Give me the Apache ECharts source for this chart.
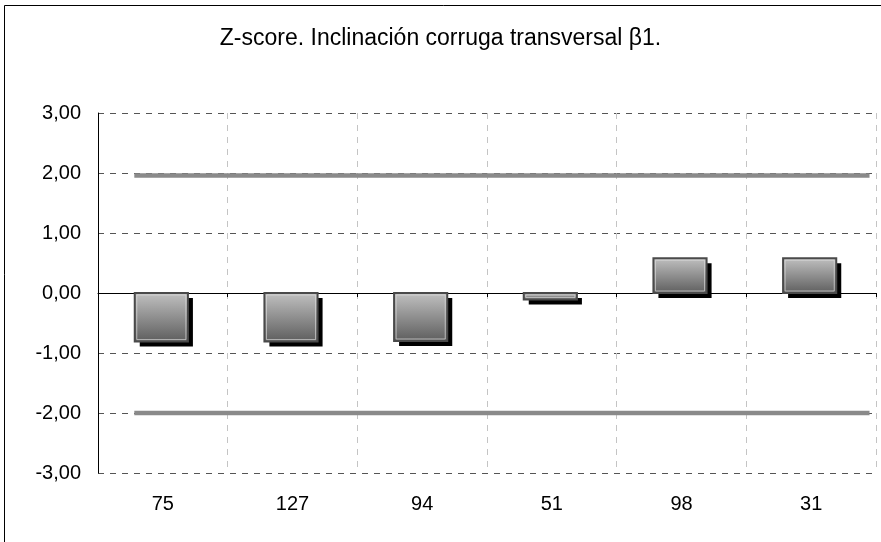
<!DOCTYPE html>
<html>
<head>
<meta charset="utf-8">
<script src="https://cdn.jsdelivr.net/npm/echarts@6/dist/echarts.min.js"></script>
<style>
  html, body { margin: 0; padding: 0; background: #fff; }
  #chart { width: 881px; height: 542px; }
</style>
</head>
<body>
<div id="chart"></div>
<script>
// categories and z-score values
const categories = ['75', '127', '94', '51', '98', '31'];
const zScores = [-0.81, -0.81, -0.80, -0.11, 0.58, 0.58];
// limit lines, drawn across the plot (x in category units)
const upperLimit = 1.96;
const lowerLimit = -2.00;
const limitSpan = [0.28, 5.95];

const chart = echarts.init(document.getElementById('chart'));

const fmt = v => v.toFixed(2).replace('.', ',');
const FONT = 'Liberation Sans, Arial, sans-serif';

const limitLine = (name, y) => ({
  name: name,
  type: 'line',
  xAxisIndex: 2,
  data: limitSpan.map(x => [x, y]),
  symbol: 'none',
  silent: true,
  lineStyle: { color: '#8a8a8a', width: 4.5, cap: 'butt' },
  z: 3
});

// bar with a hard black drop shadow, like the spreadsheet chart
function renderBar(params, api) {
  const idx = api.value(0);
  const val = api.value(1);
  const base = api.coord([idx, 0]);
  const top = api.coord([idx, val]);
  const w = api.size([1, 0])[0] * 0.41;
  const x = base[0] - w / 2 - 1.5;
  const y = Math.min(base[1], top[1]);
  const h = Math.abs(base[1] - top[1]);
  return {
    type: 'group',
    children: [
      {
        type: 'rect',
        shape: { x: x + 5, y: y + 5, width: w, height: h },
        style: { fill: '#000' }
      },
      {
        type: 'rect',
        shape: { x: x, y: y, width: w, height: h },
        style: {
          fill: new echarts.graphic.LinearGradient(0, 0, 0, 1, [
            { offset: 0, color: '#c2c2c2' },
            { offset: 1, color: '#5c5c5c' }
          ]),
          stroke: '#4a4a4a',
          lineWidth: 2
        }
      },
      {
        type: 'rect',
        shape: { x: x + 2, y: y + 2, width: Math.max(w - 4, 0), height: Math.max(h - 4, 0) },
        style: { fill: null, stroke: 'rgba(220,220,220,0.7)', lineWidth: 1 }
      }
    ]
  };
}

const option = {
  animation: false,
  backgroundColor: '#fff',
  textStyle: { fontFamily: FONT },
  title: {
    text: 'Z-score. Inclinación corruga transversal β1.',
    left: 'center',
    top: 22,
    textStyle: {
      fontFamily: FONT,
      fontSize: 23,
      fontWeight: 'normal',
      color: '#000'
    }
  },
  graphic: [
    {
      type: 'rect',
      shape: { x: 4.5, y: 5.5, width: 900, height: 600 },
      style: { fill: null, stroke: '#000', lineWidth: 1 },
      silent: true
    }
  ],
  grid: { left: 98, right: 5, top: 113, bottom: 69 },
  xAxis: [
    {
      type: 'category',
      data: categories,
      position: 'bottom',
      axisLine: { show: false, onZero: false },
      axisTick: { show: false },
      axisLabel: { color: '#000', fontSize: 20, margin: 21 },
      splitLine: {
        show: true,
        lineStyle: { color: '#c4c4c4', type: [6, 6], width: 1 }
      }
    },
    {
      type: 'category',
      data: categories,
      position: 'bottom',
      axisLine: { show: true, onZero: true, lineStyle: { color: '#000', width: 1 } },
      axisTick: { show: true, length: 4, lineStyle: { color: '#000' } },
      axisLabel: { show: false },
      splitLine: { show: false }
    },
    {
      type: 'value',
      min: 0,
      max: 6,
      show: false
    }
  ],
  yAxis: {
    type: 'value',
    min: -3,
    max: 3,
    interval: 1,
    axisLine: { show: true, lineStyle: { color: '#000', width: 1 } },
    axisTick: { show: false },
    axisLabel: { color: '#000', fontSize: 20, margin: 17, formatter: fmt },
    splitLine: {
      show: true,
      lineStyle: { color: '#555', type: [6, 6], width: 1 }
    }
  },
  series: [
    limitLine('upper', upperLimit),
    limitLine('lower', lowerLimit),
    {
      name: 'Z-score',
      type: 'custom',
      xAxisIndex: 0,
      renderItem: renderBar,
      data: zScores.map((v, i) => [i, v]),
      z: 4
    }
  ]
};

chart.setOption(option);
</script>
</body>
</html>
